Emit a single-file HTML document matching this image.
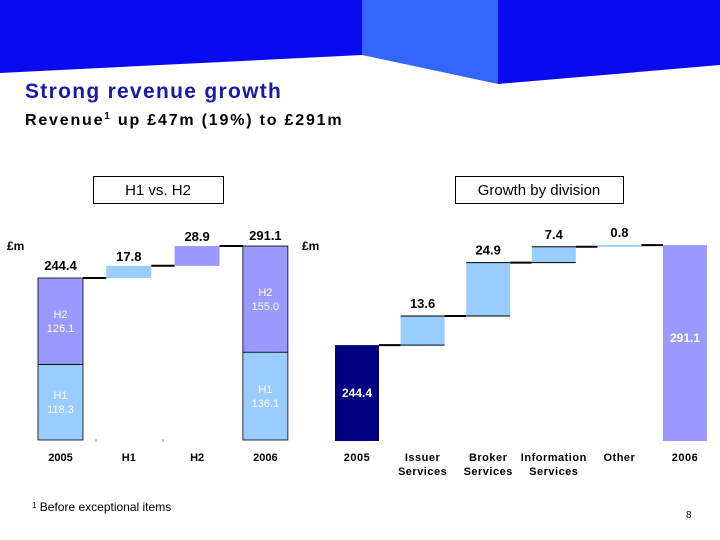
<!DOCTYPE html>
<html><head><meta charset="utf-8"><style>
html,body{margin:0;padding:0;background:#fff}
body{width:720px;height:540px;position:relative;overflow:hidden;font-family:"Liberation Sans",sans-serif}
</style></head><body>
<svg width="720" height="540" style="position:absolute;left:0;top:0">
<polygon points="0,0 362,0 362,55 0,73" fill="#0a0af0"/>
<polygon points="362,0 498,0 498,84 362,55" fill="#3366ff"/>
<polygon points="498,0 720,0 720,65 498,84" fill="#0a0af0"/>
<rect x="93.5" y="176.5" width="130" height="27" fill="#fff" stroke="#000"/>
<rect x="455.5" y="176.5" width="168" height="27" fill="#fff" stroke="#000"/>
<g id="left"></g><g id="right"></g>
<text x="25" y="98" font-family="Liberation Sans,sans-serif" font-weight="bold" font-size="21" letter-spacing="1.3" fill="#1a1aa8">Strong revenue growth</text>
<text x="25" y="125" font-family="Liberation Sans,sans-serif" font-weight="bold" font-size="16" letter-spacing="1.8" fill="#000">Revenue<tspan font-size="10" dy="-6">1</tspan><tspan dy="6"> up £47m (19%) to £291m</tspan></text>
<text x="158" y="195" text-anchor="middle" font-size="15" font-family="Liberation Sans,sans-serif">H1 vs. H2</text>
<text x="539" y="195" text-anchor="middle" font-size="15" font-family="Liberation Sans,sans-serif">Growth by division</text>
<text x="7" y="250" font-size="12" font-weight="bold" font-family="Liberation Sans,sans-serif">£m</text>
<text x="302" y="250" font-size="12" font-weight="bold" font-family="Liberation Sans,sans-serif">£m</text>
<text x="32" y="511" font-size="12" font-family="Liberation Sans,sans-serif"><tspan font-size="8" dy="-3">1</tspan><tspan dy="3"> Before exceptional items</tspan></text>
<text x="686" y="518" font-size="10" font-family="Liberation Sans,sans-serif">8</text>
</svg>
<script>
const NS="http://www.w3.org/2000/svg";
// Left chart data
const leftCats=["2005","H1","H2","2006"];
const startTotal=244.4, endTotal=291.1;
const halfDeltas=[17.8,28.9];
const split2005=[118.3,126.1];
const split2006=[136.1,155.0];
// Right chart data
const rightCats=[["2005"],["Issuer","Services"],["Broker","Services"],["Information","Services"],["Other"],["2006"]];
const divDeltas=[13.6,24.9,7.4,0.8];

function el(p,tag,a){const e=document.createElementNS(NS,tag);for(const k in a)e.setAttribute(k,a[k]);p.appendChild(e);return e;}
function txt(p,x,y,s,a){const e=el(p,"text",Object.assign({x:x,y:y,"text-anchor":"middle","font-family":"Liberation Sans,sans-serif","font-weight":"bold","font-size":13},a||{}));e.textContent=s;return e;}

// LEFT
(function(){
const g=document.getElementById("left");
const base=440,k=0.685,v0=7.9;
const y=v=>base-(v-v0)*k;
const x0=38,step=68.3,w=45;
const bx=i=>x0+i*step;
let yS=y(startTotal), yM=base-(split2005[0]-v0)*k;
let r=el(g,"rect",{x:bx(0),y:yM,width:w,height:base-yM,fill:"#99ccff",stroke:"#000","stroke-width":0.8});

r=el(g,"rect",{x:bx(0),y:yS,width:w,height:yM-yS,fill:"#9999ff",stroke:"#000","stroke-width":0.8});

txt(g,bx(0)+w/2,(yS+yM)/2-3,"H2",{fill:"#fff","font-size":11,"font-weight":"normal"});
txt(g,bx(0)+w/2,(yS+yM)/2+11,split2005[1].toFixed(1),{fill:"#fff","font-size":11,"font-weight":"normal"});
txt(g,bx(0)+w/2,(yM+base)/2-3,"H1",{fill:"#fff","font-size":11,"font-weight":"normal"});
txt(g,bx(0)+w/2,(yM+base)/2+11,split2005[0].toFixed(1),{fill:"#fff","font-size":11,"font-weight":"normal"});
txt(g,bx(0)+w/2,yS-8,startTotal.toFixed(1));
let cum=startTotal;
const cols=["#99ccff","#9999ff"];
halfDeltas.forEach((d,i)=>{
  const yb=y(cum), yt=y(cum+d), xx=bx(i+1);
  const ln=el(g,"line",{x1:bx(i)+w,x2:xx,y1:yb,y2:yb,stroke:"#000","stroke-width":2});
  
  const b=el(g,"rect",{x:xx,y:yt,width:w,height:yb-yt,fill:cols[i]});
  
  txt(g,xx+w/2,yt-5,d.toFixed(1));
  cum+=d;
});
yS=y(endTotal); yM=base-(split2006[0]-v0)*k;
let ln=el(g,"line",{x1:bx(2)+w,x2:bx(3),y1:y(cum),y2:y(cum),stroke:"#000","stroke-width":2});

r=el(g,"rect",{x:bx(3),y:yM,width:w,height:base-yM,fill:"#99ccff",stroke:"#000","stroke-width":0.8});

r=el(g,"rect",{x:bx(3),y:yS,width:w,height:yM-yS,fill:"#9999ff",stroke:"#000","stroke-width":0.8});

txt(g,bx(3)+w/2,(yS+yM)/2-3,"H2",{fill:"#fff","font-size":11,"font-weight":"normal"});
txt(g,bx(3)+w/2,(yS+yM)/2+11,split2006[1].toFixed(1),{fill:"#fff","font-size":11,"font-weight":"normal"});
txt(g,bx(3)+w/2,(yM+base)/2-3,"H1",{fill:"#fff","font-size":11,"font-weight":"normal"});
txt(g,bx(3)+w/2,(yM+base)/2+11,split2006[0].toFixed(1),{fill:"#fff","font-size":11,"font-weight":"normal"});
txt(g,bx(3)+w/2,yS-6,endTotal.toFixed(1));
[96,163].forEach(t=>{const m=el(g,"line",{x1:t,x2:t,y1:439,y2:442,stroke:"#888"});});
leftCats.forEach((c,i)=>{const t=txt(g,bx(i)+w/2,461,c,{"font-size":11});});
})();

// RIGHT
(function(){
const g=document.getElementById("right");
const base=441,k=2.141,v0=199.6;
const y=v=>base-(v-v0)*k;
const x0=335,step=65.6,w=44;
const bx=i=>x0+i*step;
let yS=y(startTotal);
let r=el(g,"rect",{x:bx(0),y:yS,width:w,height:base-yS,fill:"#000080"});

txt(g,bx(0)+w/2,397,startTotal.toFixed(1),{fill:"#fff","font-size":12});
let cum=startTotal;
divDeltas.forEach((d,i)=>{
  const yb=y(cum), yt=y(cum+d), xx=bx(i+1);
  const ln=el(g,"line",{x1:bx(i)+w,x2:xx,y1:yb,y2:yb,stroke:"#000","stroke-width":2});
  
  const b=el(g,"rect",{x:xx,y:yt,width:w,height:Math.max(yb-yt,1.5),fill:"#99ccff"});
  
  el(g,"line",{x1:xx,x2:xx+w,y1:yt,y2:yt,stroke:"#000","stroke-width":d>5?1:0});
  el(g,"line",{x1:xx,x2:xx+w,y1:yb,y2:yb,stroke:"#000","stroke-width":d>5?1:0});
  txt(g,xx+w/2,yt-8,d.toFixed(1));
  cum+=d;
});
yS=y(endTotal);
let ln=el(g,"line",{x1:bx(4)+w,x2:bx(5),y1:y(cum),y2:y(cum),stroke:"#000","stroke-width":2});

r=el(g,"rect",{x:bx(5),y:yS,width:w,height:base-yS,fill:"#9999ff"});

txt(g,bx(5)+w/2,342,endTotal.toFixed(1),{fill:"#fff","font-size":12});
rightCats.forEach((c,i)=>{c.forEach((s,j)=>{const t=txt(g,bx(i)+w/2,461+j*14,s,{"font-size":11,"letter-spacing":0.5});});});
})();
</script>
</body></html>
